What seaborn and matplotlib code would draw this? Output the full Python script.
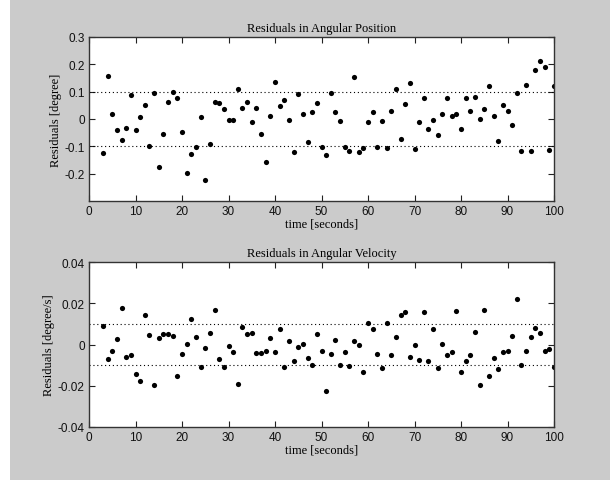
import numpy as np
import pandas as pd
import matplotlib
matplotlib.use("Agg")
import matplotlib.pyplot as plt
from matplotlib.patches import Rectangle
import seaborn as sns

# --- data (t = 3 .. 100 s) ---
time_s = list(range(3, 101))

pos_resid = [
    -0.125, 0.157, 0.018, -0.039, -0.076, -0.032, 0.088, -0.039, 0.006, 0.050,
    -0.100, 0.095, -0.174, -0.055, 0.063, 0.100, 0.076, -0.048, -0.199, -0.129,
    -0.101, 0.006, -0.223, -0.092, 0.063, 0.060, 0.035, -0.002, -0.002, 0.108,
    0.039, 0.063, -0.011, 0.039, -0.055, -0.157, 0.011, 0.136, 0.048, 0.071,
    -0.004, -0.120, 0.092, 0.018, -0.085, 0.025, 0.058, -0.101, -0.130, 0.095,
    0.025, -0.007, -0.101, -0.118, 0.152, -0.121, -0.106, -0.012, 0.025, -0.101,
    -0.007, -0.106, 0.030, 0.108, -0.073, 0.055, 0.132, -0.110, -0.011, 0.076,
    -0.035, -0.002, -0.060, 0.018, 0.076, 0.011, 0.018, -0.035, 0.076, 0.030,
    0.080, 0.001, 0.038, 0.120, 0.011, -0.080, 0.051, 0.031, -0.023, 0.095,
    -0.117, 0.125, -0.117, 0.179, 0.211, 0.189, -0.113, 0.119,
]

vel_resid = [
    0.0092, -0.0070, -0.0032, 0.0029, 0.0175, -0.0060, -0.0053, -0.0143, -0.0177, 0.0141,
    0.0047, -0.0198, 0.0031, 0.0049, 0.0053, 0.0042, -0.0154, -0.0044, 0.0002, 0.0125,
    0.0036, -0.0109, -0.0015, 0.0058, 0.0168, -0.0070, -0.0109, -0.0008, -0.0037, -0.0193,
    0.0087, 0.0052, 0.0056, -0.0039, -0.0039, -0.0032, 0.0031, -0.0037, 0.0074, -0.0110,
    0.0019, -0.0081, -0.0013, 0.0002, -0.0065, -0.0099, 0.0052, -0.0031, -0.0225, -0.0047,
    0.0024, -0.0097, -0.0037, -0.0104, 0.0015, -0.0003, -0.0131, 0.0102, 0.0074, -0.0044,
    -0.0115, 0.0102, -0.0053, 0.0037, 0.0141, 0.0159, -0.0060, -0.0002, -0.0075, 0.0159,
    -0.0081, 0.0074, -0.0115, 0.0003, -0.0052, -0.0036, 0.0164, -0.0131, -0.0081, -0.0052,
    0.0063, -0.0198, 0.0168, -0.0152, -0.0065, -0.0120, -0.0036, -0.0031, 0.0042, 0.0220,
    -0.0097, -0.0031, 0.0037, 0.0081, 0.0058, -0.0031, -0.0021, -0.0110,
]

pos_band = 0.1
vel_band = 0.01

pos_yticks = [-0.2, -0.1, 0, 0.1, 0.2, 0.3]
vel_yticks = [-0.04, -0.02, 0, 0.02, 0.04]

df = pd.DataFrame({"t": time_s, "pos": pos_resid, "vel": vel_resid})

# --- figure ---
BG = "#cbcbcb"
serif = ["Liberation Serif", "DejaVu Serif"]
sans = ["Liberation Sans", "DejaVu Sans"]

fig = plt.figure(figsize=(6.1, 4.81), dpi=100, facecolor=BG)
# thin white strip on the left edge of the original screenshot
fig.patches.append(Rectangle((0, 0), 10 / 610, 1, transform=fig.transFigure,
                             facecolor="white", edgecolor="none", zorder=-1))

ax1 = fig.add_axes([89 / 610, 1 - 202 / 481, 465 / 610, 164 / 481])
ax2 = fig.add_axes([89 / 610, 1 - 428 / 481, 465 / 610, 165 / 481])


def style_axes(ax, yticks, ylim, title, ylabel, ytick_fmt):
    ax.set_facecolor("white")
    ax.set_xlim(0, 100)
    ax.set_ylim(*ylim)
    ax.set_xticks(range(0, 101, 10))
    ax.set_yticks(yticks)
    ax.set_yticklabels([ytick_fmt(v) for v in yticks])
    ax.tick_params(direction="in", top=True, right=True, length=4,
                   width=0.8, color="#222222", labelsize=8.5, pad=3)
    for lbl in ax.get_xticklabels() + ax.get_yticklabels():
        lbl.set_family(sans)
        lbl.set_color("#111111")
    for s in ax.spines.values():
        s.set_color("#333333")
        s.set_linewidth(1.0)
    ax.set_title(title, family=serif, fontsize=9, pad=4)
    ax.set_xlabel("time [seconds]", family=serif, fontsize=9, labelpad=0)
    ax.set_ylabel(ylabel, family=serif, fontsize=9, labelpad=2)


def fmt_pos(v):
    return "0" if v == 0 else f"{v:.1f}"


def fmt_vel(v):
    return "0" if v == 0 else f"{v:.2f}"


sns.scatterplot(data=df, x="t", y="pos", ax=ax1, color="black", s=14,
                marker="o", edgecolor="black", linewidth=0, legend=False)
for yb in (pos_band, -pos_band):
    ax1.axhline(yb, color="black", linestyle=(0, (1, 2.5)), linewidth=0.8)
style_axes(ax1, pos_yticks, (-0.3, 0.3), "Residuals in Angular Position",
           "Residuals [degree]", fmt_pos)

sns.scatterplot(data=df, x="t", y="vel", ax=ax2, color="black", s=14,
                marker="o", edgecolor="black", linewidth=0, legend=False)
for yb in (vel_band, -vel_band):
    ax2.axhline(yb, color="black", linestyle=(0, (1, 2.5)), linewidth=0.8)
style_axes(ax2, vel_yticks, (-0.04, 0.04), "Residuals in Angular Velocity",
           "Residuals [degree/s]", fmt_vel)

fig.savefig("out.png", dpi=100, facecolor=BG)
